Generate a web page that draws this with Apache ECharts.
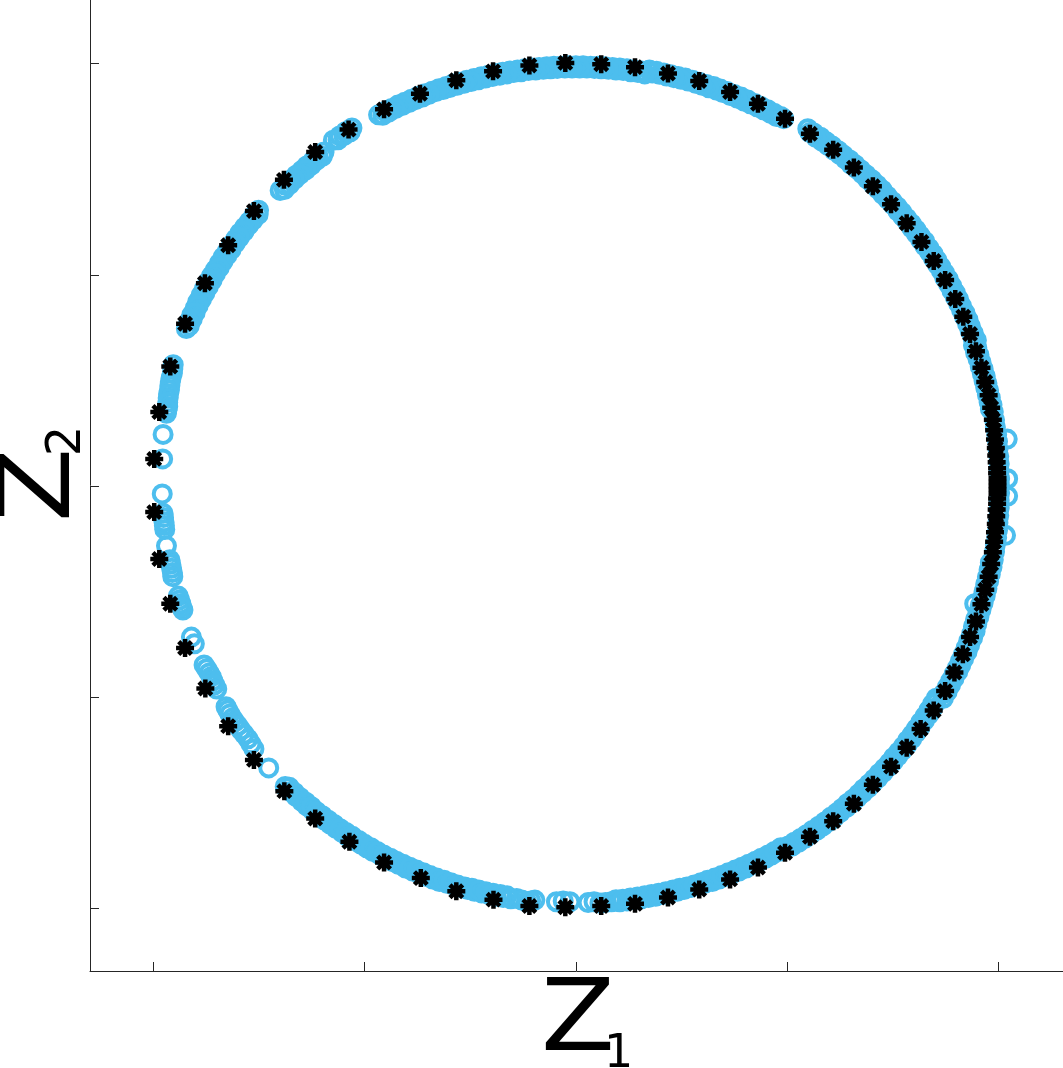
<!DOCTYPE html>
<html>
<head>
<meta charset="utf-8">
<script src="https://cdn.jsdelivr.net/npm/echarts@6/dist/echarts.min.js"></script>
<style>
  html, body { margin: 0; padding: 0; background: #fff; }
  #chart { width: 1063px; height: 1068px; }
</style>
</head>
<body>
<div id="chart"></div>
<script>
// tick positions (no labels on either axis)
var tickValues = [-1, -0.5, 0, 0.5, 1];

// hollow blue circles (reconstruction)
var circlePoints = [
  // bottom, small clusters
  [-0.140,-0.977],[-0.117,-0.985],[-0.097,-0.981],
  [-0.046,-0.985],[-0.014,-0.985],
  [0.029,-0.987],[0.057,-0.988],[0.084,-0.985],
  // bottom right
  [0.104,-0.985],[0.121,-0.983],[0.138,-0.980],[0.155,-0.978],[0.172,-0.975],[0.189,-0.972],[0.206,-0.968],
  [0.223,-0.964],[0.240,-0.960],[0.256,-0.956],[0.273,-0.951],[0.289,-0.946],[0.306,-0.941],[0.323,-0.937],
  [0.339,-0.931],[0.354,-0.925],[0.371,-0.918],[0.387,-0.912],[0.403,-0.905],[0.419,-0.897],[0.434,-0.890],
  [0.449,-0.882],[0.464,-0.874],[0.480,-0.866],[0.495,-0.857],
  [0.512,-0.853],[0.527,-0.844],[0.542,-0.835],[0.556,-0.825],[0.571,-0.815],[0.585,-0.805],[0.599,-0.795],
  [0.613,-0.784],[0.626,-0.773],[0.640,-0.762],[0.653,-0.751],[0.666,-0.739],[0.679,-0.727],[0.692,-0.715],
  [0.703,-0.703],[0.715,-0.692],[0.727,-0.679],[0.739,-0.666],[0.751,-0.653],[0.762,-0.640],[0.773,-0.626],
  [0.784,-0.613],[0.795,-0.599],[0.805,-0.585],[0.815,-0.571],[0.825,-0.556],[0.835,-0.542],[0.844,-0.527],
  [0.853,-0.512],
  [0.870,-0.503],[0.879,-0.487],[0.887,-0.471],[0.895,-0.456],[0.904,-0.440],[0.911,-0.425],[0.918,-0.409],
  [0.926,-0.393],[0.932,-0.377],[0.939,-0.360],[0.945,-0.344],[0.944,-0.279],
  // right side
  [0.949,-0.327],[0.954,-0.310],[0.959,-0.293],[0.964,-0.277],[0.969,-0.260],[0.973,-0.243],[0.977,-0.226],
  [0.981,-0.209],[0.985,-0.192],[0.988,-0.175],[0.991,-0.156],[0.993,-0.139],[0.996,-0.122],[0.998,-0.105],
  [0.999,-0.087],[1.001,-0.070],[1.002,-0.052],[1.002,-0.035],[1.003,-0.017],[1.003,0.000],[1.003,0.017],
  [1.002,0.035],[1.002,0.052],[1.001,0.070],[0.999,0.087],[0.998,0.105],[0.996,0.122],[0.993,0.139],
  [0.991,0.156],[0.988,0.175],[0.985,0.192],[0.981,0.209],[0.977,0.226],[0.973,0.243],[0.969,0.260],
  [0.964,0.277],[0.959,0.293],[0.954,0.310],[0.949,0.327],
  [1.017,-0.117],[1.022,-0.024],[1.022,0.017],[1.021,0.111],
  // upper right
  [0.948,0.345],[0.941,0.361],[0.934,0.378],[0.928,0.394],[0.921,0.410],[0.913,0.426],[0.906,0.442],
  [0.898,0.458],[0.890,0.473],[0.882,0.489],[0.873,0.504],[0.864,0.519],[0.855,0.534],[0.846,0.549],
  [0.836,0.563],[0.826,0.579],[0.815,0.593],[0.805,0.607],[0.794,0.621],[0.783,0.634],[0.772,0.648],
  [0.761,0.661],[0.749,0.674],[0.737,0.687],[0.725,0.701],[0.713,0.713],[0.701,0.725],[0.687,0.737],
  [0.674,0.749],[0.661,0.761],[0.648,0.772],[0.634,0.783],[0.621,0.794],[0.607,0.805],[0.593,0.815],
  [0.579,0.826],[0.563,0.836],[0.549,0.846],
  // top
  [0.492,0.870],[0.485,0.875],[0.469,0.883],[0.454,0.891],[0.438,0.899],[0.423,0.906],[0.407,0.914],
  [0.391,0.921],[0.375,0.927],[0.358,0.934],[0.342,0.940],[0.326,0.946],[0.309,0.951],[0.292,0.956],
  [0.276,0.961],[0.259,0.966],[0.242,0.970],[0.225,0.974],[0.208,0.978],[0.191,0.982],[0.174,0.985],
  [0.156,0.983],[0.138,0.985],[0.121,0.988],[0.104,0.990],[0.087,0.991],[0.069,0.993],[0.052,0.994],
  [0.035,0.994],[0.017,0.995],[0.000,0.995],[-0.017,0.995],[-0.035,0.994],[-0.052,0.994],[-0.069,0.993],
  [-0.087,0.991],[-0.104,0.990],[-0.121,0.988],[-0.138,0.985],[-0.156,0.983],[-0.173,0.980],[-0.190,0.977],
  [-0.207,0.973],[-0.224,0.969],[-0.241,0.965],[-0.258,0.961],[-0.274,0.956],[-0.291,0.952],[-0.307,0.946],
  [-0.324,0.941],[-0.340,0.935],[-0.357,0.929],[-0.373,0.923],[-0.389,0.916],[-0.405,0.909],[-0.421,0.902],
  [-0.436,0.894],[-0.452,0.887],[-0.467,0.879],
  // upper left, broken pieces
  [-0.530,0.848],[-0.545,0.839],[-0.559,0.829],[-0.574,0.819],
  [-0.596,0.791],[-0.610,0.780],[-0.623,0.769],[-0.637,0.758],[-0.649,0.747],[-0.662,0.736],[-0.675,0.724],
  [-0.688,0.712],[-0.700,0.700],
  [-0.751,0.653],[-0.762,0.640],[-0.773,0.626],[-0.784,0.613],[-0.795,0.599],[-0.805,0.585],[-0.815,0.571],
  [-0.825,0.556],[-0.835,0.542],[-0.844,0.527],[-0.853,0.512],[-0.862,0.498],[-0.871,0.483],[-0.879,0.467],
  [-0.887,0.452],[-0.895,0.436],[-0.901,0.421],[-0.909,0.405],[-0.916,0.389],[-0.922,0.373],
  // left side, sparse
  [-0.953,0.287],[-0.955,0.267],[-0.960,0.246],[-0.962,0.227],[-0.965,0.208],[-0.966,0.188],[-0.969,0.172],
  [-0.977,0.122],[-0.978,0.064],[-0.979,-0.019],
  [-0.977,-0.065],[-0.975,-0.085],[-0.973,-0.103],
  [-0.969,-0.142],[-0.961,-0.175],[-0.957,-0.195],[-0.954,-0.215],
  [-0.941,-0.261],[-0.935,-0.279],[-0.930,-0.294],
  [-0.910,-0.358],[-0.903,-0.374],
  [-0.880,-0.424],[-0.868,-0.443],[-0.859,-0.462],[-0.850,-0.481],
  [-0.828,-0.523],[-0.819,-0.540],[-0.807,-0.559],[-0.793,-0.578],[-0.776,-0.599],[-0.762,-0.623],
  [-0.727,-0.668],
  // lower left
  [-0.688,-0.712],[-0.675,-0.724],[-0.662,-0.736],[-0.649,-0.747],[-0.637,-0.758],[-0.623,-0.769],
  [-0.610,-0.780],[-0.596,-0.791],[-0.582,-0.801],[-0.568,-0.811],[-0.553,-0.821],[-0.540,-0.831],
  [-0.525,-0.840],[-0.510,-0.848],[-0.495,-0.857],[-0.480,-0.866],[-0.464,-0.874],[-0.449,-0.882],
  [-0.434,-0.890],[-0.419,-0.897],[-0.403,-0.905],[-0.387,-0.912],[-0.371,-0.918],[-0.354,-0.925],
  [-0.339,-0.931],[-0.323,-0.937],[-0.306,-0.941],[-0.289,-0.946],[-0.273,-0.951],[-0.256,-0.956],
  [-0.240,-0.960],[-0.223,-0.964],[-0.206,-0.968],[-0.189,-0.972],[-0.172,-0.975],[-0.154,-0.978]
];

// more blue circles packed between the ones above, on the inner side of the band
var circlePointsInner = [
  [-0.128,-0.981],[-0.107,-0.983],[-0.030,-0.983],[0.043,-0.985],[0.070,-0.987],[0.094,-0.983],
  [0.095,-0.980],[0.111,-0.979],[0.129,-0.976],[0.146,-0.974],[0.163,-0.971],[0.179,-0.968],[0.196,-0.965],
  [0.213,-0.961],[0.230,-0.957],[0.246,-0.953],[0.263,-0.950],[0.280,-0.945],[0.296,-0.940],[0.312,-0.934],
  [0.329,-0.929],[0.345,-0.923],[0.361,-0.916],[0.377,-0.910],[0.393,-0.903],[0.409,-0.896],[0.425,-0.889],
  [0.439,-0.882],[0.455,-0.874],[0.470,-0.866],[0.485,-0.857],
  [0.503,-0.853],[0.517,-0.844],[0.532,-0.835],[0.546,-0.826],[0.560,-0.816],[0.575,-0.806],[0.589,-0.796],
  [0.603,-0.785],[0.617,-0.775],[0.630,-0.764],[0.643,-0.752],[0.656,-0.742],[0.669,-0.730],[0.681,-0.718],
  [0.694,-0.706],[0.706,-0.694],[0.718,-0.681],[0.730,-0.669],[0.742,-0.656],[0.752,-0.643],[0.764,-0.630],
  [0.775,-0.617],[0.785,-0.603],[0.796,-0.589],[0.806,-0.575],[0.816,-0.560],[0.826,-0.546],[0.835,-0.532],
  [0.844,-0.517],[0.853,-0.503],
  [0.870,-0.492],[0.879,-0.477],[0.887,-0.462],[0.895,-0.446],[0.903,-0.431],[0.910,-0.415],[0.917,-0.399],
  [0.924,-0.383],[0.930,-0.367],[0.937,-0.350],
  [0.941,-0.333],[0.946,-0.316],[0.952,-0.300],[0.957,-0.283],[0.962,-0.266],[0.966,-0.250],[0.970,-0.233],
  [0.974,-0.216],[0.978,-0.199],[0.981,-0.182],
  [0.981,0.182],[0.978,0.199],[0.974,0.216],[0.970,0.233],[0.966,0.250],[0.962,0.266],[0.957,0.283],
  [0.952,0.300],[0.946,0.316],[0.941,0.333],
  [0.940,0.351],[0.933,0.368],[0.927,0.384],[0.920,0.400],[0.913,0.416],[0.906,0.432],[0.898,0.447],
  [0.890,0.463],[0.882,0.478],[0.873,0.493],[0.865,0.510],[0.856,0.524],[0.846,0.539],[0.837,0.554],
  [0.826,0.568],[0.816,0.583],[0.806,0.597],[0.795,0.611],[0.785,0.625],[0.774,0.638],[0.762,0.651],
  [0.751,0.665],[0.739,0.678],[0.727,0.690],[0.715,0.703],[0.703,0.715],[0.690,0.727],[0.678,0.739],
  [0.665,0.751],[0.651,0.762],[0.638,0.774],[0.625,0.785],[0.611,0.795],[0.597,0.806],[0.583,0.816],
  [0.568,0.826],[0.554,0.837],
  [0.475,0.875],[0.460,0.883],[0.444,0.891],[0.429,0.898],[0.413,0.905],[0.397,0.912],[0.381,0.919],
  [0.365,0.925],[0.348,0.932],[0.332,0.938],[0.315,0.943],[0.299,0.949],[0.283,0.954],[0.266,0.959],
  [0.249,0.963],[0.232,0.967],[0.215,0.971],[0.198,0.975],[0.181,0.978],[0.163,0.976],[0.147,0.979],
  [0.130,0.981],[0.112,0.984],[0.095,0.985],[0.077,0.987],[0.060,0.988],[0.044,0.989],[0.026,0.990],
  [0.009,0.990],[-0.009,0.990],[-0.026,0.990],[-0.044,0.989],[-0.060,0.988],[-0.077,0.987],[-0.095,0.985],
  [-0.112,0.984],[-0.130,0.981],[-0.147,0.979],[-0.163,0.976],[-0.180,0.973],[-0.197,0.970],[-0.214,0.966],
  [-0.231,0.962],[-0.248,0.958],[-0.264,0.954],[-0.281,0.949],[-0.298,0.944],[-0.314,0.939],[-0.331,0.934],
  [-0.347,0.928],[-0.363,0.921],[-0.379,0.915],[-0.395,0.908],[-0.411,0.901],[-0.427,0.894],[-0.442,0.886],
  [-0.457,0.878],
  [-0.534,0.839],[-0.549,0.830],[-0.563,0.820],
  [-0.600,0.781],[-0.614,0.771],[-0.626,0.760],[-0.639,0.749],[-0.653,0.738],[-0.666,0.726],[-0.678,0.714],
  [-0.690,0.702],
  [-0.752,0.643],[-0.764,0.630],[-0.775,0.617],[-0.785,0.603],[-0.796,0.589],[-0.806,0.575],[-0.816,0.560],
  [-0.826,0.546],[-0.835,0.532],[-0.844,0.517],[-0.853,0.503],[-0.861,0.487],[-0.870,0.472],[-0.878,0.457],
  [-0.886,0.442],[-0.894,0.427],[-0.901,0.411],[-0.908,0.395],[-0.915,0.379],
  [-0.954,0.277],[-0.958,0.256],[-0.961,0.237],[-0.964,0.218],[-0.966,0.198],[-0.968,0.180],
  [-0.976,-0.075],[-0.974,-0.094],[-0.959,-0.185],[-0.955,-0.205],[-0.938,-0.270],[-0.933,-0.287],
  [-0.874,-0.433],[-0.863,-0.452],[-0.855,-0.471],[-0.824,-0.531],[-0.813,-0.550],[-0.800,-0.568],
  [-0.785,-0.588],[-0.769,-0.611],
  [-0.678,-0.714],[-0.666,-0.726],[-0.653,-0.738],[-0.639,-0.749],[-0.626,-0.760],[-0.614,-0.771],
  [-0.600,-0.781],[-0.586,-0.792],[-0.572,-0.802],[-0.558,-0.812],[-0.544,-0.821],[-0.529,-0.830],
  [-0.514,-0.840],[-0.500,-0.849],[-0.485,-0.857],[-0.470,-0.866],[-0.455,-0.874],[-0.439,-0.882],
  [-0.425,-0.889],[-0.409,-0.896],[-0.393,-0.903],[-0.377,-0.910],[-0.361,-0.916],[-0.345,-0.923],
  [-0.329,-0.929],[-0.312,-0.934],[-0.296,-0.940],[-0.280,-0.945],[-0.263,-0.950],[-0.246,-0.953],
  [-0.230,-0.957],[-0.213,-0.961],[-0.196,-0.965],[-0.179,-0.968],[-0.163,-0.971]
];

// black asterisks (original points)
var starPoints = [
  [0.998,0.000],[0.998,0.009],[0.998,0.019],[0.997,0.030],[0.997,0.042],[0.996,0.056],[0.995,0.072],
  [0.994,0.090],[0.992,0.110],[0.990,0.132],[0.987,0.157],[0.983,0.185],[0.977,0.215],[0.969,0.246],
  [0.960,0.280],[0.947,0.319],[0.933,0.360],[0.917,0.401],[0.898,0.443],[0.874,0.488],[0.847,0.533],
  [0.818,0.578],[0.783,0.622],[0.746,0.667],[0.703,0.710],[0.658,0.754],[0.609,0.796],[0.554,0.834],
  [0.495,0.870],[0.431,0.905],[0.365,0.933],[0.292,0.959],[0.218,0.977],[0.140,0.992],[0.060,0.999],
  [-0.025,1.002],[-0.110,0.996],[-0.196,0.982],[-0.283,0.961],[-0.369,0.929],[-0.454,0.892],[-0.538,0.844],
  [-0.617,0.791],[-0.691,0.725],[-0.762,0.651],[-0.823,0.570],[-0.878,0.480],[-0.925,0.384],[-0.960,0.283],
  [-0.986,0.175],[-0.998,0.064],[-0.998,-0.062],[-0.986,-0.173],[-0.960,-0.279],[-0.925,-0.384],
  [-0.877,-0.480],[-0.823,-0.569],[-0.762,-0.649],[-0.690,-0.723],[-0.617,-0.788],[-0.536,-0.843],
  [-0.454,-0.892],[-0.367,-0.929],[-0.283,-0.960],[-0.195,-0.980],[-0.110,-0.995],[-0.025,-0.998],
  [0.060,-0.995],[0.140,-0.990],[0.218,-0.975],[0.292,-0.956],[0.365,-0.932],[0.431,-0.904],[0.495,-0.869],
  [0.554,-0.831],[0.609,-0.794],[0.658,-0.753],[0.703,-0.708],[0.746,-0.665],[0.783,-0.620],[0.816,-0.576],
  [0.847,-0.532],[0.874,-0.486],[0.896,-0.442],[0.916,-0.399],[0.933,-0.358],[0.947,-0.321],[0.960,-0.280],
  [0.969,-0.246],[0.977,-0.215],[0.983,-0.185],[0.987,-0.157],[0.990,-0.132],[0.992,-0.110],[0.994,-0.090],
  [0.995,-0.072],[0.996,-0.056],[0.997,-0.042],[0.997,-0.030],[0.998,-0.019],[0.998,-0.009]
];

// 8 armed asterisk outline, used as a path symbol
function asteriskPath(w) {
  var d = w / Math.sin(Math.PI / 8);
  var pts = [];
  for (var k = 0; k < 8; k++) {
    var a = k * Math.PI / 4;
    var c = Math.cos(a), s = Math.sin(a);
    pts.push([c + s * w, s - c * w]);
    pts.push([c - s * w, s + c * w]);
    pts.push([d * Math.cos(a + Math.PI / 8), d * Math.sin(a + Math.PI / 8)]);
  }
  return 'path://' + pts.map(function (p, i) {
    return (i ? 'L' : 'M') + p[0].toFixed(3) + ' ' + p[1].toFixed(3);
  }).join(' ') + ' Z';
}

var axisColor = '#262626';
var myChart = echarts.init(document.getElementById('chart'));
var option = {
  animation: false,
  backgroundColor: '#fff',
  grid: { left: 90, right: 0, top: 0, bottom: 97 },
  xAxis: {
    type: 'value',
    min: -1.15,
    max: 1.153,
    axisLine: { show: true, onZero: false, lineStyle: { color: axisColor, width: 1 } },
    axisTick: { show: true, inside: true, length: 9, customValues: tickValues, lineStyle: { color: axisColor } },
    axisLabel: { show: false },
    splitLine: { show: false }
  },
  yAxis: {
    type: 'value',
    min: -1.149,
    max: 1.151,
    axisLine: { show: true, onZero: false, lineStyle: { color: axisColor, width: 1 } },
    axisTick: { show: true, inside: true, length: 9, customValues: tickValues, lineStyle: { color: axisColor } },
    axisLabel: { show: false },
    splitLine: { show: false }
  },
  series: [
    {
      name: 'reconstructed',
      type: 'scatter',
      data: circlePoints.concat(circlePointsInner),
      symbol: 'circle',
      symbolSize: 17,
      silent: true,
      itemStyle: { color: 'rgba(0,0,0,0)', borderColor: '#4DBEEE', borderWidth: 4, opacity: 1 }
    },
    {
      name: 'original',
      type: 'scatter',
      data: starPoints,
      symbol: asteriskPath(0.25),
      symbolSize: 18,
      silent: true,
      itemStyle: { color: '#000', opacity: 1 }
    }
  ],
  graphic: [
    { type: 'text', x: 541, y: 1024, scaleX: 1.08, style: { text: 'Z', font: '100px "DejaVu Sans"', fill: '#000', align: 'left', verticalAlign: 'middle' } },
    { type: 'text', x: 604, y: 1055, style: { text: '1', font: '46px "DejaVu Sans"', fill: '#000', align: 'left', verticalAlign: 'middle' } },
    { type: 'text', x: 43, y: 485, scaleX: 1.08, rotation: Math.PI / 2, style: { text: 'Z', font: '100px "DejaVu Sans"', fill: '#000', align: 'center', verticalAlign: 'middle' } },
    { type: 'text', x: 68, y: 441, rotation: Math.PI / 2, style: { text: '2', font: '48px "DejaVu Sans"', fill: '#000', align: 'center', verticalAlign: 'middle' } }
  ]
};
myChart.setOption(option);
window.addEventListener('resize', function () {
  myChart.resize();
});
</script>
</body>
</html>
